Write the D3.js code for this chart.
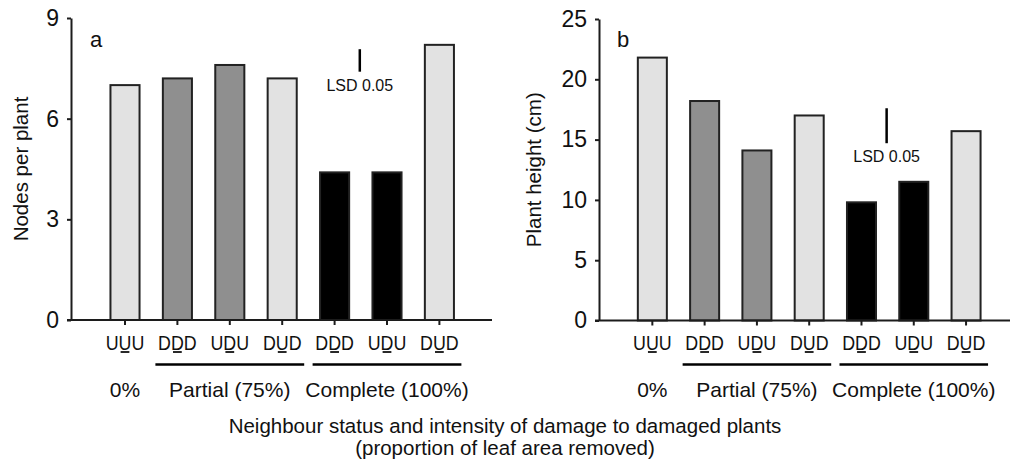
<!DOCTYPE html>
<html>
<head>
<meta charset="utf-8">
<script src="https://cdn.jsdelivr.net/npm/d3@7"></script>
<style>
  html, body { margin: 0; padding: 0; background: #fff; }
  svg { display: block; font-family: "Liberation Sans", Arial, Helvetica, sans-serif; }
</style>
</head>
<body>
<svg id="chart" width="1010" height="462"></svg>
<script>
// Treatment codes: neighbour / focal / neighbour (middle letter = focal plant)
const categories = ["UUU", "DDD", "UDU", "DUD", "DDD", "UDU", "DUD"];
// Damage intensity applied to damaged plants in each treatment
const intensity = ["none", "partial", "partial", "partial", "complete", "complete", "complete"];

// Panel a: nodes per plant
const nodesPerPlant = [7.0, 7.2, 7.6, 7.2, 4.4, 4.4, 8.2];
// Panel b: plant height (cm)
const plantHeight = [21.8, 18.2, 14.1, 17.0, 9.8, 11.5, 15.7];

const nodesTicks = [0, 3, 6, 9];
const heightTicks = [0, 5, 10, 15, 20, 25];

// LSD (P = 0.05) bars, drawn as [bottom, top] in data units
const nodesLsd = [7.4, 8.07];
const heightLsd = [14.7, 17.6];

// Damage-intensity groups below the category labels
const groupLabels = ["0%", "Partial (75%)", "Complete (100%)"];
const groupStart = [0, 1, 4];
const groupEnd = [0, 3, 6];
const groupRule = [false, true, true];

const fillUndamaged = "#e2e2e2";
const fillPartial = "#8f8f8f";
const fillComplete = "#000000";
const ink = "#1c1c1c";

const svg = d3.select("#chart");

function barFill(i) {
  const focal = categories[i][1];
  if (focal === "U") return fillUndamaged;
  return intensity[i] === "complete" ? fillComplete : fillPartial;
}

function drawPanel(opt) {
  const g = svg.append("g");
  const idx = d3.range(categories.length);

  const x = d3.scaleBand().domain(idx).range(opt.bandRange).padding(0);
  const y = d3.scaleLinear().domain([0, opt.yMax]).range([opt.yBottom, opt.yTop]);
  const barW = x.bandwidth() * 0.555;

  // bars
  g.selectAll("rect.bar").data(opt.values).join("rect")
    .attr("class", "bar")
    .attr("x", (d, i) => x(i) + (x.bandwidth() - barW) / 2)
    .attr("y", d => y(d))
    .attr("width", barW)
    .attr("height", d => y(0) - y(d))
    .attr("fill", (d, i) => barFill(i))
    .attr("stroke", "#222")
    .attr("stroke-width", 2);

  // y axis
  const yAxis = g.append("g")
    .attr("transform", `translate(${opt.axisX},0)`)
    .call(d3.axisLeft(y).tickValues(opt.ticks).tickSize(4).tickPadding(8).tickSizeOuter(0));
  yAxis.attr("font-family", null).attr("font-size", null);
  yAxis.select(".domain").attr("stroke", ink).attr("stroke-width", 2);
  yAxis.selectAll(".tick line").attr("stroke", ink).attr("stroke-width", 2);
  yAxis.selectAll(".tick text")
    .attr("fill", "#111").attr("font-size", 23);

  // x axis baseline with downward ticks at each bar
  const xAxis = g.append("g")
    .attr("transform", `translate(0,${y(0)})`)
    .call(d3.axisBottom(x).tickSize(5).tickSizeOuter(0).tickFormat(""));
  xAxis.select(".domain").remove();
  xAxis.selectAll(".tick line").attr("stroke", ink).attr("stroke-width", 2);
  g.append("line")
    .attr("x1", opt.axisX - 4).attr("x2", opt.xAxisEnd)
    .attr("y1", y(0)).attr("y2", y(0))
    .attr("stroke", ink).attr("stroke-width", 2);

  // category labels, focal plant letter underlined
  idx.forEach(i => {
    const cx = x(i) + x.bandwidth() / 2;
    const lg = g.append("g").attr("transform", `translate(${cx},350) scale(0.85,1)`);
    const t = lg.append("text")
      .attr("text-anchor", "middle")
      .attr("font-size", 21)
      .attr("fill", "#111")
      .text(categories[i]);
    const ext = t.node().getExtentOfChar(1);
    const mid = ext.x + ext.width / 2;
    const half = ext.width * 0.34;
    lg.append("line")
      .attr("x1", mid - half).attr("x2", mid + half)
      .attr("y1", 2).attr("y2", 2)
      .attr("stroke", "#111").attr("stroke-width", 1.8);
  });

  // intensity group rules and labels
  groupLabels.forEach((lab, k) => {
    const c0 = x(groupStart[k]) + x.bandwidth() / 2;
    const c1 = x(groupEnd[k]) + x.bandwidth() / 2;
    if (groupRule[k]) {
      g.append("line")
        .attr("x1", c0 - 22).attr("x2", c1 + 22)
        .attr("y1", 364.5).attr("y2", 364.5)
        .attr("stroke", "#000").attr("stroke-width", 2.5);
    }
    g.append("text")
      .attr("x", (c0 + c1) / 2).attr("y", 397)
      .attr("text-anchor", "middle")
      .attr("font-size", 21)
      .attr("fill", "#111")
      .text(lab);
  });

  // LSD bar between the 5th and 6th bars
  const lx = (x(4) + x(5)) / 2 + x.bandwidth() / 2 - 1;
  g.append("line")
    .attr("x1", lx).attr("x2", lx)
    .attr("y1", y(opt.lsd[1])).attr("y2", y(opt.lsd[0]))
    .attr("stroke", "#000").attr("stroke-width", 2.5);
  g.append("text")
    .attr("x", lx).attr("y", y(opt.lsd[0]) + 19)
    .attr("text-anchor", "middle")
    .attr("font-size", 16)
    .attr("fill", "#111")
    .text("LSD 0.05");

  // panel letter
  g.append("text")
    .attr("x", opt.letterX).attr("y", 47)
    .attr("font-size", 22)
    .attr("fill", "#111")
    .text(opt.letter);

  // y axis title
  g.append("text")
    .attr("transform", `translate(${opt.titleX},${(opt.yTop + opt.yBottom) / 2}) rotate(-90)`)
    .attr("text-anchor", "middle")
    .attr("font-size", 20.5)
    .attr("fill", "#111")
    .text(opt.title);
}

drawPanel({
  values: nodesPerPlant, ticks: nodesTicks, yMax: 9, lsd: nodesLsd,
  axisX: 71, yTop: 18, yBottom: 320, xAxisEnd: 492,
  bandRange: [98.8, 465.6],
  letter: "a", letterX: 90,
  title: "Nodes per plant", titleX: 28
});

drawPanel({
  values: plantHeight, ticks: heightTicks, yMax: 25, lsd: heightLsd,
  axisX: 599, yTop: 19, yBottom: 320.5, xAxisEnd: 1010,
  bandRange: [626.2, 992.2],
  letter: "b", letterX: 617,
  title: "Plant height (cm)", titleX: 541
});

// shared x axis title
const xt = svg.append("text")
  .attr("text-anchor", "middle")
  .attr("font-size", 20.5)
  .attr("fill", "#111");
xt.append("tspan").attr("x", 505).attr("y", 433)
  .text("Neighbour status and intensity of damage to damaged plants");
xt.append("tspan").attr("x", 505).attr("y", 455)
  .text("(proportion of leaf area removed)");
</script>
</body>
</html>
